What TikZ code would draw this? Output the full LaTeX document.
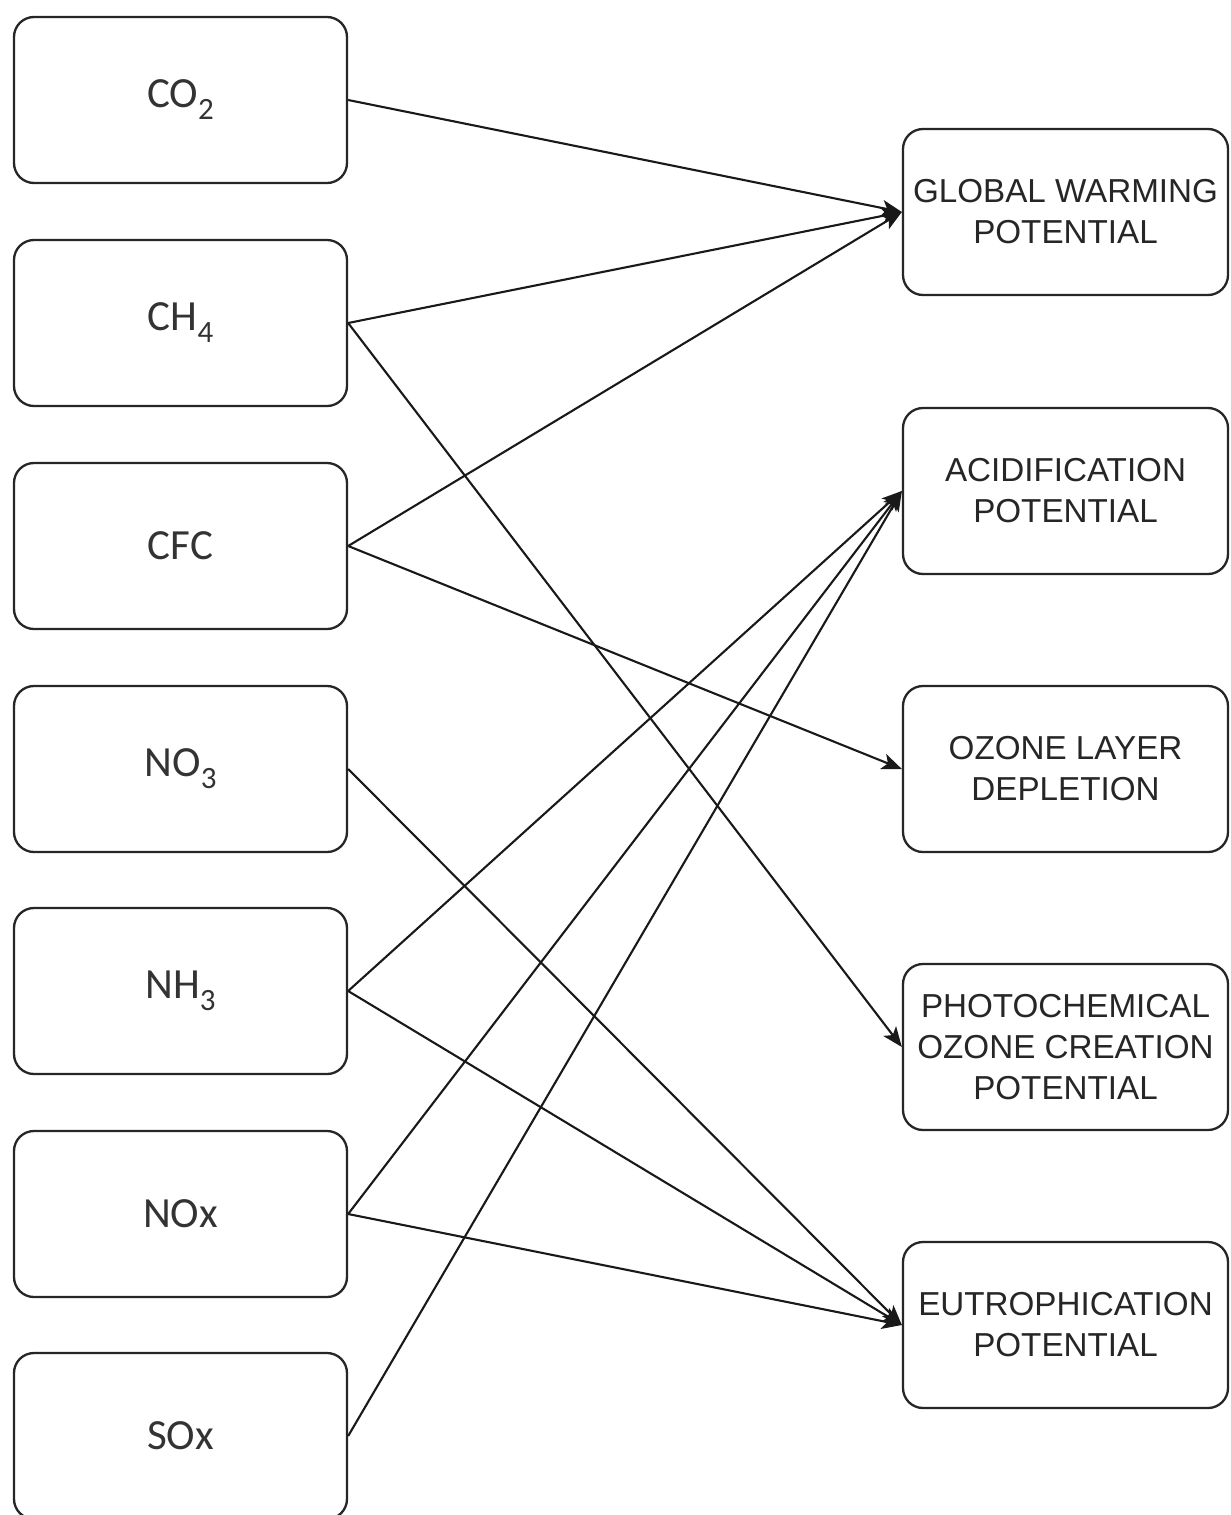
\documentclass[tikz,border=0pt]{standalone}
\usepackage{fontspec}
\setmainfont{Liberation Sans}
\newfontfamily\gasfont{Carlito}
\usetikzlibrary{arrows.meta}
\newcommand{\sbs}[1]{\raisebox{-0.28em}{\fontsize{31}{31}\selectfont #1}}
\begin{document}
\begin{tikzpicture}[x=1pt,y=-1pt,
  gas/.style={draw=black!85, line width=2.3pt, rounded corners=20pt,
    minimum width=333pt, minimum height=166pt, align=center,
    font=\gasfont\fontsize{43}{48}\selectfont, text=black!80},
  impact/.style={draw=black!85, line width=2.3pt, rounded corners=20pt,
    minimum width=325pt, minimum height=166pt, align=center, inner sep=2pt,
    font=\fontsize{33.2}{41}\selectfont, text=black!85},
  link/.style={draw=black!90, line width=2.1pt,
    -{Stealth[length=20pt, width=16pt, inset=5pt]}}]
  \useasboundingbox (0,0) rectangle (1231,1515);
  \fill[white] (0,0) rectangle (1231,1515);

  % sources
  \node[gas] (co2) at (180.5,100)  {CO\sbs{2}};
  \node[gas] (ch4) at (180.5,323)  {CH\sbs{4}};
  \node[gas] (cfc) at (180.5,546)  {CFC};
  \node[gas] (no3) at (180.5,769)  {NO\sbs{3}};
  \node[gas] (nh3) at (180.5,991)  {NH\sbs{3}};
  \node[gas] (nox) at (180.5,1214) {NOx};
  \node[gas] (sox) at (180.5,1436) {SOx};

  % impact categories
  \node[impact] (gwp)  at (1065.5,212)  {GLOBAL WARMING\\POTENTIAL};
  \node[impact] (acid) at (1065.5,491)  {ACIDIFICATION\\POTENTIAL};
  \node[impact] (odp)  at (1065.5,769)  {OZONE LAYER\\DEPLETION};
  \node[impact] (pocp) at (1065.5,1047) {PHOTOCHEMICAL\\OZONE CREATION\\POTENTIAL};
  \node[impact] (eutr) at (1065.5,1325) {EUTROPHICATION\\POTENTIAL};

  % links
  \draw[link] (co2.east) -- (gwp.west);
  \draw[link] (ch4.east) -- (gwp.west);
  \draw[link] (ch4.east) -- (pocp.west);
  \draw[link] (cfc.east) -- (gwp.west);
  \draw[link] (cfc.east) -- (odp.west);
  \draw[link] (no3.east) -- (eutr.west);
  \draw[link] (nh3.east) -- (acid.west);
  \draw[link] (nh3.east) -- (eutr.west);
  \draw[link] (nox.east) -- (acid.west);
  \draw[link] (nox.east) -- (eutr.west);
  \draw[link] (sox.east) -- (acid.west);
\end{tikzpicture}
\end{document}
